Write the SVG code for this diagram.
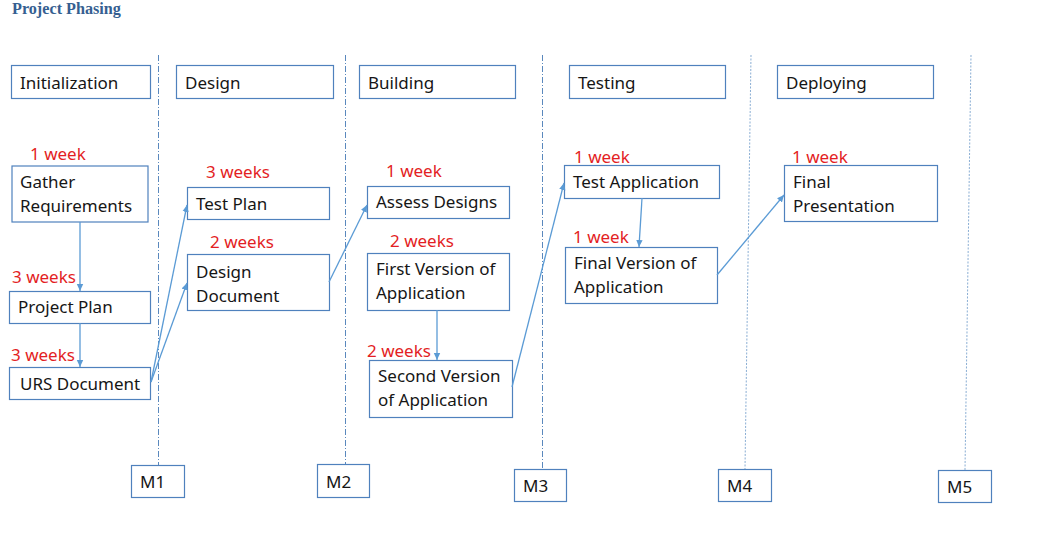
<svg xmlns="http://www.w3.org/2000/svg" width="1045" height="544" viewBox="0 0 1045 544">
<style>
.box{fill:#fff;stroke:#4f81bd;stroke-width:1.2}
.t{font-family:"Noto Sans","Open Sans",sans-serif;font-size:17px;fill:#161616}
.d{font-family:"Noto Sans","Open Sans",sans-serif;font-size:17px;fill:#e31e24}
.v{fill:none;stroke:#5a88bd;stroke-width:1;stroke-dasharray:6 2 1 2}
.v2{fill:none;stroke:#8aaed4;stroke-width:1;stroke-dasharray:2 1.5}
.c{fill:none;stroke:#5b9bd5;stroke-width:1.3;marker-end:url(#ah)}
.title{font-family:"Liberation Serif",serif;font-weight:bold;font-size:16.2px;fill:#365f91}
</style>
<defs>
<marker id="ah" markerUnits="userSpaceOnUse" markerWidth="8" markerHeight="8" refX="7" refY="4" orient="auto">
<path d="M0,0.8 L7,4 L0,7.2 Z" fill="#5b9bd5"/>
</marker>
</defs>
<rect width="1045" height="544" fill="#fff"/>
<text class="title" x="12" y="14">Project Phasing</text>

<g id="milestone-lines">
<line class="v" x1="158.5" y1="55" x2="158.5" y2="465"/>
<line class="v" x1="345.5" y1="55" x2="345.5" y2="464"/>
<line class="v" x1="542.5" y1="55" x2="542.5" y2="482"/>
<line class="v2" x1="751" y1="55" x2="745" y2="469"/>
<line class="v2" x1="971" y1="55" x2="965" y2="470"/>
</g>

<g id="header-initialization"><rect class="box" x="11.5" y="65.5" width="139" height="33"/><text class="t" x="20" y="89">Initialization</text></g>
<g id="header-design"><rect class="box" x="176.5" y="65.5" width="157" height="33"/><text class="t" x="185" y="89">Design</text></g>
<g id="header-building"><rect class="box" x="359.5" y="65.5" width="156" height="33"/><text class="t" x="368" y="89">Building</text></g>
<g id="header-testing"><rect class="box" x="569.5" y="65.5" width="156" height="33"/><text class="t" x="578" y="89">Testing</text></g>
<g id="header-deploying"><rect class="box" x="777.5" y="65.5" width="156" height="33"/><text class="t" x="786" y="89">Deploying</text></g>

<g id="gather-requirements"><text class="d" x="30" y="160">1 week</text><rect class="box" x="12" y="166" width="136" height="56"/><text class="t" x="20" y="188">Gather</text><text class="t" x="20" y="212">Requirements</text></g>
<g id="project-plan"><text class="d" x="12" y="283">3 weeks</text><rect class="box" x="9.5" y="291.5" width="141" height="32"/><text class="t" x="18" y="313">Project Plan</text></g>
<g id="urs-document"><text class="d" x="11" y="361">3 weeks</text><rect class="box" x="9.5" y="367.5" width="141" height="32"/><text class="t" x="20" y="390">URS Document</text></g>

<g id="test-plan"><text class="d" x="206" y="178">3 weeks</text><rect class="box" x="187.5" y="187.5" width="142" height="32"/><text class="t" x="196" y="210">Test Plan</text></g>
<g id="design-document"><text class="d" x="210" y="248">2 weeks</text><rect class="box" x="187.5" y="254.5" width="142" height="56"/><text class="t" x="196" y="278">Design</text><text class="t" x="196" y="302">Document</text></g>

<g id="assess-designs"><text class="d" x="386" y="177">1 week</text><rect class="box" x="367.5" y="186.5" width="142" height="32"/><text class="t" x="376" y="208">Assess Designs</text></g>
<g id="first-version"><text class="d" x="390" y="247">2 weeks</text><rect class="box" x="367.5" y="253.5" width="142" height="57"/><text class="t" x="376" y="275">First Version of</text><text class="t" x="376" y="299">Application</text></g>
<g id="second-version"><text class="d" x="367" y="357">2 weeks</text><rect class="box" x="369.5" y="360.5" width="143" height="57"/><text class="t" x="378" y="382">Second Version</text><text class="t" x="378" y="406">of Application</text></g>

<g id="test-application"><text class="d" x="574" y="163">1 week</text><rect class="box" x="564.5" y="165.5" width="155" height="33"/><text class="t" x="573" y="188">Test Application</text></g>
<g id="final-version"><text class="d" x="573" y="243">1 week</text><rect class="box" x="565.5" y="247.5" width="152" height="56"/><text class="t" x="574" y="269">Final Version of</text><text class="t" x="574" y="293">Application</text></g>

<g id="final-presentation"><text class="d" x="792" y="163">1 week</text><rect class="box" x="784.5" y="165.5" width="153" height="56"/><text class="t" x="793" y="188">Final</text><text class="t" x="793" y="212">Presentation</text></g>

<g id="m1"><rect class="box" x="131.5" y="465.5" width="53" height="32"/><text class="t" x="140" y="488">M1</text></g>
<g id="m2"><rect class="box" x="317.5" y="464.5" width="52" height="33"/><text class="t" x="326" y="488">M2</text></g>
<g id="m3"><rect class="box" x="514.5" y="469.5" width="52" height="32"/><text class="t" x="523" y="492">M3</text></g>
<g id="m4"><rect class="box" x="718.5" y="469.5" width="53" height="32"/><text class="t" x="727" y="492">M4</text></g>
<g id="m5"><rect class="box" x="938.5" y="470.5" width="53" height="32"/><text class="t" x="947" y="493">M5</text></g>

<g id="connectors">
<line class="c" x1="80" y1="222" x2="80" y2="291"/>
<line class="c" x1="80" y1="323" x2="80" y2="367"/>
<line class="c" x1="151" y1="382" x2="187" y2="205"/>
<line class="c" x1="151" y1="382" x2="187" y2="283"/>
<line class="c" x1="329" y1="282" x2="367" y2="205"/>
<line class="c" x1="437" y1="310" x2="437" y2="360"/>
<line class="c" x1="512" y1="387" x2="564" y2="183"/>
<line class="c" x1="642" y1="198" x2="639" y2="247"/>
<line class="c" x1="717" y1="275" x2="784" y2="195"/>
</g>
</svg>
